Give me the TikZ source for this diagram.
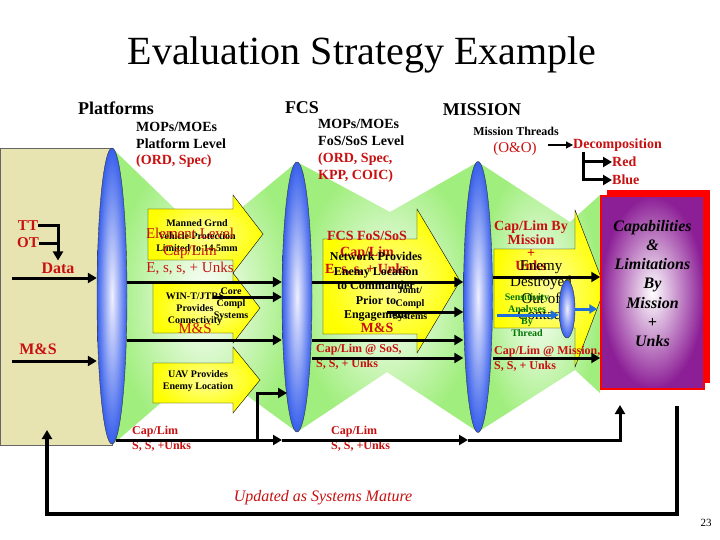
\documentclass[tikz,border=0pt]{standalone}
\usepackage{fontspec}
\setmainfont{Liberation Serif}
\usetikzlibrary{arrows.meta,calc,positioning,shapes.geometric,shadows}

\definecolor{capred}{RGB}{200,16,16}
\definecolor{lensblue}{RGB}{55,95,235}
\definecolor{bandgreen}{RGB}{160,238,125}
\definecolor{platbeige}{RGB}{232,228,178}
\definecolor{boxpurple}{RGB}{140,30,150}
\definecolor{sensgreen}{RGB}{0,120,0}
\definecolor{flowblue}{RGB}{30,110,220}

\tikzset{
  band/.style={shading=radial, inner color=white, outer color=bandgreen},
  lens/.style={ellipse, draw=black!80, thin, shading=radial,
               inner color=blue!6!white, outer color=lensblue, inner sep=0pt},
  yarrow/.style={draw=black, thin, shading=radial,
                 inner color=yellow!40!white, outer color=yellow},
  capbox/.style={draw=red, line width=1.5pt, minimum width=103, minimum height=193,
                 shading=radial, inner color=white, outer color=boxpurple,
                 general shadow={fill=red, shadow xshift=6pt, shadow yshift=6pt}},
  flow/.style={line width=3pt, -{Triangle[length=9pt,width=10pt]}},
  blueflow/.style={line width=3pt, draw=flowblue, -{Triangle[length=8pt,width=9pt]}},
  thinflow/.style={line width=1.2pt, -{Triangle[length=7pt,width=7pt]}},
  bar/.style={line width=3pt},
  txt/.style={inner sep=0pt, align=center},
  redtxt/.style={txt, text=capred},
  heading/.style={txt, font=\fontsize{18}{20}\selectfont\bfseries},
  mop/.style={inner sep=0pt, align=left, anchor=west},
  smalltxt/.style={txt, font=\fontsize{10}{12.5}\selectfont\bfseries},
}

\begin{document}
\begin{tikzpicture}[x=1pt,y=-1pt]
\useasboundingbox[fill=white] (0,0) rectangle (720,540);
%
  \node[txt, font=\fontsize{40}{48}\selectfont] (title) at (362,55) {Evaluation Strategy Example};
%
% green cells between the lenses
  \path[band] (112,148) -- (205,238) -- (297,162) -- (297,432) -- (205,365) -- (112,445) -- cycle;
  \path[band] (297,162) -- (390,212) -- (478,162) -- (478,432) -- (387,372) -- (297,432) -- cycle;
  \path[band] (478,162) -- (570,222) -- (600,195) -- (600,393) -- (575,370) -- (478,432) -- cycle;
  \path[fill=platbeige, draw=black!60, thin] (0,148) rectangle (112,445);
%
  \node[lens, minimum width=30, minimum height=296] (e1) at (112,296) {};
  \node[lens, minimum width=30, minimum height=270] (e2) at (297,297) {};
  \node[lens, minimum width=29, minimum height=271] (e3) at (478,297) {};
%
% block arrows
  \path[yarrow] (148,209) -- (233,209) -- (233,195) -- (263,234) -- (233,273) -- (233,260) -- (148,260) -- cycle;
  \path[yarrow] (153,283) -- (233,283) -- (233,273) -- (260,308) -- (233,343) -- (233,333) -- (153,333) -- cycle;
  \path[yarrow] (153,363) -- (233,363) -- (233,347) -- (260,380) -- (233,413) -- (233,403) -- (153,403) -- cycle;
  \path[yarrow] (323,239) -- (417,239) -- (417,209) -- (460,281) -- (417,353) -- (417,334) -- (323,334) -- cycle;
  \path[yarrow] (494,249) -- (575,249) -- (575,210) -- (605,288) -- (575,367) -- (575,328) -- (494,328) -- cycle;
%
  \node[capbox] (caps) at (652.5,292.5) {};
  \node[txt, font=\fontsize{16}{19.2}\selectfont\bfseries\itshape] (capstxt) at ([yshift=9pt]caps.center)
    {Capabilities\\\&\\Limitations\\By\\Mission\\+\\Unks};
%
% headings
  \node[heading] (plat) at (116,108) {Platforms};
  \node[heading] (fcs) at (302,108) {FCS};
  \node[heading] (miss) at (482,110) {MISSION};
  \node[mop, font=\fontsize{14}{16.5}\selectfont\bfseries] (platmop) at (136,145)
    {MOPs/MOEs\\Platform Level\\\textcolor{capred}{(ORD, Spec)}};
  \node[mop, font=\fontsize{14}{17}\selectfont\bfseries] (fcsmop) at (318,151)
    {MOPs/MOEs\\FoS/SoS Level\\\textcolor{capred}{(ORD, Spec,}\\\textcolor{capred}{KPP, COIC)}};
  \node[txt, font=\fontsize{12}{14}\selectfont\bfseries] (mthr) at (516,131) {Mission Threads};
  \node[redtxt, font=\fontsize{15}{17}\selectfont] (oo) at (515,149) {(O\&O)};
  \node[redtxt, anchor=west, font=\fontsize{14}{16}\selectfont\bfseries] (decomp) at (573,145) {Decomposition};
  \node[redtxt, anchor=west, font=\fontsize{14}{16}\selectfont\bfseries] (redbr) at (612,162) {Red};
  \node[redtxt, anchor=west, font=\fontsize{14}{16}\selectfont\bfseries] (bluebr) at (612,180) {Blue};
  \draw[thinflow] ([xshift=-25pt]decomp.west) -- (decomp.west);
  \coordinate (brk) at (583,152);
  \draw[flow] (brk) |- (bluebr.west);
  \draw[flow] (brk |- redbr.west) -- (redbr.west);
%
% platform inputs
  \node[redtxt, font=\fontsize{15}{17}\selectfont\bfseries] (tt) at (28,226) {TT};
  \node[redtxt, font=\fontsize{15}{17}\selectfont\bfseries] (ot) at (28,243) {OT};
  \node[redtxt, font=\fontsize{16}{18}\selectfont\bfseries] (data) at (58,268) {Data};
  \node[redtxt, font=\fontsize{16}{18}\selectfont\bfseries] (msl) at (38,349) {M\&S};
  \draw[flow] (tt.east) -| ([yshift=2pt]data.north);
  \draw[bar] (ot.east) -- (ot.east -| data.north);
  \coordinate (datain) at (12,278);
  \coordinate (msin) at (12,361);
  \draw[flow] (datain) -- (datain -| e1.west);
  \draw[flow] (msin) -- (msin -| e1.west);
%
% texts in the block arrows
  \node[smalltxt] (manned) at (197,236) {Manned Grnd\\Vehicle Protection\\Limited to 14.5mm};
  \node[redtxt, font=\fontsize{15}{17}\selectfont] (elem) at (190,251) {Element Level\\Cap/Lim\\E, s, s, + Unks};
  \node[smalltxt, font=\fontsize{10}{12}\selectfont\bfseries] (wint) at (195,309) {WIN-T/JTRS\\Provides\\Connectivity};
  \node[smalltxt, font=\fontsize{10}{12}\selectfont\bfseries] (core) at (231,304) {Core\\Compl\\Systems};
  \node[redtxt, font=\fontsize{15}{17}\selectfont] (msa) at (195,329) {M\&S};
  \node[smalltxt] (uav) at (198,381) {UAV Provides\\Enemy Location};
%
  \node[redtxt, font=\fontsize{14}{16.5}\selectfont\bfseries] (fcscap) at (367,253) {FCS FoS/SoS\\Cap/Lim\\E, s, s, + Unks};
  \node[txt, font=\fontsize{12}{14.5}\selectfont\bfseries] (netw) at (376,287)
    {Network Provides\\Enemy Location\\to Commander\\Prior to\\Engagement};
  \node[smalltxt, font=\fontsize{10}{13}\selectfont\bfseries] (joint) at (410,304) {Joint/\\Compl\\Systems};
  \node[redtxt, font=\fontsize{14}{16}\selectfont\bfseries] (msb) at (377,328) {M\&S};
  \node[redtxt, mop, font=\fontsize{12}{14.5}\selectfont\bfseries] (sos) at (316,357) {Cap/Lim @ SoS,\\S, S, + Unks};
%
  \node[redtxt, font=\fontsize{14}{13.3}\selectfont\bfseries] (mcap) at (531,246) {Cap/Lim By\\Mission\\+\\Unks};
  \node[txt, font=\fontsize{15}{16.5}\selectfont] (enemy) at (541,290) {Enemy\\Destroyed\\Out of\\Contact};
  \node[txt, text=sensgreen, font=\fontsize{10}{12}\selectfont\bfseries] (sens) at (527,315) {Sensitivity\\Analyses\\By\\Thread};
  \node[lens, minimum width=16, minimum height=58] (e4) at (567,309) {};
  \node[redtxt, mop, font=\fontsize{12}{14.5}\selectfont\bfseries] (mis) at (494,359) {Cap/Lim @ Mission,\\S, S, + Unks};
%
  \node[redtxt, mop, font=\fontsize{12}{14.5}\selectfont\bfseries] (cl1) at (132,439) {Cap/Lim\\S, S, +Unks};
  \node[redtxt, mop, font=\fontsize{12}{14.5}\selectfont\bfseries] (cl2) at (331,439) {Cap/Lim\\S, S, +Unks};
%
% flows between the lenses
  \coordinate (rowdata) at (0,282);
  \coordinate (rowkill) at (0,277);
  \coordinate (rowms) at (0,340);
  \coordinate (rowsos) at (0,358);
  \coordinate (corestart) at (213,297);
  \coordinate (jointstart) at (387,312);
  \coordinate (sensstart) at (497,315);
  \draw[flow] (e1.east |- rowdata) -- (e2.west |- rowdata);
  \draw[flow] (e2.east |- rowdata) -- (e3.west |- rowdata);
  \draw[flow] (e3.east |- rowkill) -- (caps.west |- rowkill);
  \draw[flow] (corestart) -- (corestart -| e2.west);
  \draw[flow] (e1.east |- rowms) -- (e2.west |- rowms);
  \draw[flow] (e2.east |- rowms) -- (e3.west |- rowms);
  \draw[flow] (jointstart) -- (jointstart -| e3.west);
  \draw[flow] (e2.east |- rowsos) -- (e3.west |- rowsos);
  \draw[flow] (e3.east |- rowsos) -- (caps.west |- rowsos);
  \draw[blueflow] (sensstart) -- (sensstart -| e4.west);
  \draw[blueflow, shorten >=3pt] (e4.east) -- (e4.east -| caps.west);
%
% capability loop
  \coordinate (loopstart) at (116,440);
  \coordinate (loopmid) at (282,440);
  \coordinate (loopend) at (468,440);
  \coordinate (capup) at (620,405);
  \coordinate (uavfork) at (257,440);
  \coordinate (uavin) at (287,393);
  \draw[flow] (loopstart) -- (loopmid);
  \draw[flow] (loopmid) -- (loopend);
  \draw[flow] (loopend) -| (capup);
  \draw[flow] (uavfork) |- (uavin);
%
  \coordinate (fbR) at (677,406);
  \coordinate (fbL) at (47,430);
  \draw[flow, line width=4pt] (fbR) -- ++(0,108) -| (fbL);
  \node[redtxt, font=\fontsize{16}{18}\selectfont\itshape] (upd) at (323,498) {Updated as Systems Mature};
  \node[txt, font=\fontsize{11}{12}\selectfont] (pgno) at (706,523) {23};
\end{tikzpicture}
\end{document}
